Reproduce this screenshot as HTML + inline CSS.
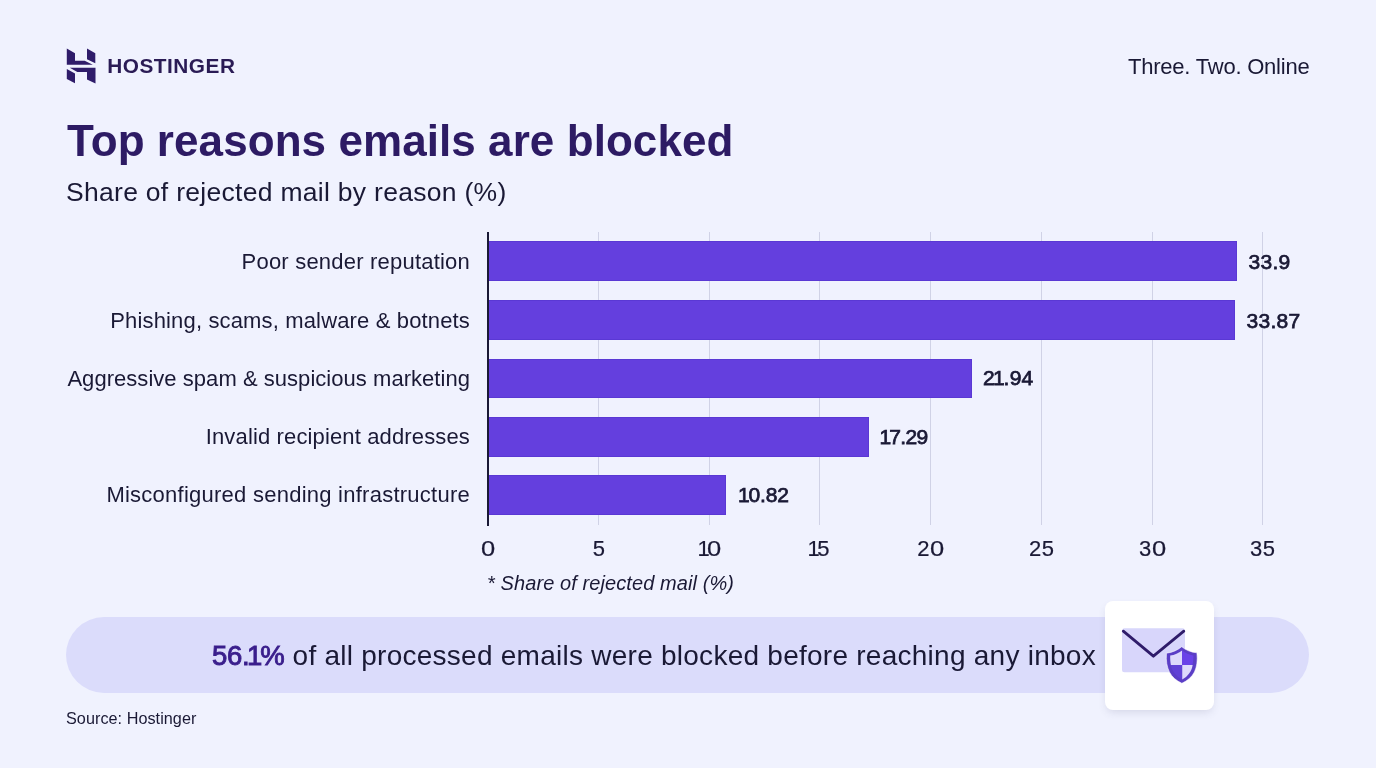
<!DOCTYPE html>
<html lang="en">
<head>
<meta charset="utf-8">
<title>Top reasons emails are blocked</title>
<style>
  html, body { margin:0; padding:0; }
  body { width:1376px; height:768px; overflow:hidden; background:#f0f2fe; font-family:"Liberation Sans", sans-serif; color:#1a1935; position:relative; }
  .abs { position:absolute; white-space:nowrap; }
  #logo-text { left:107.3px; top:54px; font-size:20.8px; font-weight:bold; letter-spacing:0.5px; color:#2a1b55; line-height:23px; }
  #tagline { right:66.5px; top:54.5px; font-size:22px; line-height:24px; letter-spacing:-0.22px; color:#1a1935; }
  #title { left:67px; top:115.5px; letter-spacing:0.07px; font-size:44px; font-weight:bold; line-height:50px; color:#2d1b64; }
  #subtitle { left:66px; top:177px; letter-spacing:0.29px; font-size:26.5px; line-height:31px; color:#1a1935; }
  .cat { right:906px; font-size:22px; line-height:26px; color:#1a1935; text-align:right; }
  .bar { left:488px; height:39.5px; background:#643fde; box-shadow:inset 0 0 0 1px rgba(70,40,190,0.3); }
  .val { font-size:21px; font-weight:normal; -webkit-text-stroke:0.75px #1a1935; line-height:24px; color:#1a1935; }
  .grid { width:1.4px; margin-left:-0.3px; top:232px; height:293px; background:#d0d2e6; }
  #axis { left:487px; top:231.5px; width:1.6px; height:294px; background:#1a1935; }
  .tick { width:60px; text-align:center; top:536.7px; -webkit-text-stroke:0.2px #1a1935; font-size:22px; line-height:24px; letter-spacing:0.4px; color:#1a1935; }
  #note { left:487px; top:571px; letter-spacing:0.09px; font-size:20px; line-height:24px; font-style:italic; color:#1a1935; }
  #pill { left:66px; top:617px; width:1243px; height:76px; border-radius:38px; background:#dbdcfb; }
  #stmt { left:212px; top:639px; font-size:28px; line-height:34px; color:#1a1935; }
  #stmt b { color:#3a1e8c; font-weight:normal; font-size:27.5px; letter-spacing:-0.3px; -webkit-text-stroke:0.9px #3a1e8c; }
  #stmt b .one { margin-left:-2.4px; margin-right:-1.6px; }
  #stmt span.r { letter-spacing:0.255px; }
  #card { left:1105px; top:601px; width:109px; height:109px; border-radius:8px; background:#fff; box-shadow:0 4px 9px -2px rgba(70,70,115,0.17); }
  #source { left:66px; top:708.3px; letter-spacing:0.05px; font-size:16.2px; line-height:20px; color:#1a1935; }
  .one { margin-left:-2px; margin-right:-1.2px; }
  .tick .one { margin-right:-3px; }
  .z { display:inline-block; transform:scaleX(1.16); margin:0 0.9px; }
</style>
</head>
<body>
  <svg class="abs" style="left:60px;top:40px" width="50" height="50" viewBox="60 40 50 50">
    <g fill="#2f1c6a">
      <polygon points="66.8,48.5 75,53.3 75,60.8 84.7,60.8 92.8,64.8 66.8,64.8"/>
      <polygon points="87,48.5 95.3,53.3 95.3,63.3 87,59.3"/>
      <polygon points="69.8,67.7 95.5,67.7 95.5,83.6 87,79.4 87,71.9 77.3,71.9"/>
      <polygon points="66.8,69 75,73.5 75,83.3 66.8,79.1"/>
    </g>
  </svg>
  <div id="logo-text" class="abs">HOSTINGER</div>
  <div id="tagline" class="abs">Three. Two. Online</div>
  <div id="title" class="abs">Top reasons emails are blocked</div>
  <div id="subtitle" class="abs">Share of rejected mail by reason (%)</div>

  <div class="abs grid" style="left:598px"></div>
  <div class="abs grid" style="left:709px"></div>
  <div class="abs grid" style="left:819px"></div>
  <div class="abs grid" style="left:930px"></div>
  <div class="abs grid" style="left:1041px"></div>
  <div class="abs grid" style="left:1152px"></div>
  <div class="abs grid" style="left:1262px"></div>

  <div class="abs bar" style="top:241.2px;width:749px"></div>
  <div class="abs bar" style="top:300px;width:747px"></div>
  <div class="abs bar" style="top:358.5px;width:484px"></div>
  <div class="abs bar" style="top:417px;width:381px"></div>
  <div class="abs bar" style="top:475.2px;width:238.3px"></div>
  <div id="axis" class="abs"></div>

  <div class="abs cat" style="top:249px;letter-spacing:0.21px">Poor sender reputation</div>
  <div class="abs cat" style="top:307.5px;letter-spacing:0.15px">Phishing, scams, malware &amp; botnets</div>
  <div class="abs cat" style="top:365.5px;letter-spacing:0.04px">Aggressive spam &amp; suspicious marketing</div>
  <div class="abs cat" style="top:424px;letter-spacing:0.14px">Invalid recipient addresses</div>
  <div class="abs cat" style="top:482px;letter-spacing:0.25px">Misconfigured sending infrastructure</div>

  <div class="abs val" style="left:1248.5px;top:250px;letter-spacing:0.3px">33.9</div>
  <div class="abs val" style="left:1246.5px;top:309px;letter-spacing:0.3px">33.87</div>
  <div class="abs val" style="left:983px;top:366.3px;letter-spacing:0.2px">2<span class="one">1</span>.94</div>
  <div class="abs val" style="left:881.5px;top:424.8px;letter-spacing:-0.7px"><span class="one">1</span>7.29</div>
  <div class="abs val" style="left:740px;top:482.8px;letter-spacing:-0.1px"><span class="one">1</span>0.82</div>

  <div class="abs tick" style="left:458.5px"><span class="z">0</span></div>
  <div class="abs tick" style="left:569px">5</div>
  <div class="abs tick" style="left:680.5px"><span class="one">1</span><span class="z">0</span></div>
  <div class="abs tick" style="left:789.7px"><span class="one">1</span>5</div>
  <div class="abs tick" style="left:900.7px">2<span class="z">0</span></div>
  <div class="abs tick" style="left:1011.7px">25</div>
  <div class="abs tick" style="left:1122.5px">3<span class="z">0</span></div>
  <div class="abs tick" style="left:1232.7px">35</div>

  <div id="note" class="abs">* Share of rejected mail (%)</div>

  <div id="pill" class="abs"></div>
  <div id="stmt" class="abs"><b>56.<span class="one">1</span>%</b><span class="r"> of all processed emails were blocked before reaching any inbox</span></div>
  <div id="card" class="abs"></div>
  <svg class="abs" style="left:1105px;top:601px" width="109" height="109" viewBox="1105 601 109 109">
    <rect x="1122" y="628.2" width="63" height="44" rx="2.5" fill="#d8d6fb"/>
    <polyline points="1123.3,631.2 1153.4,656.2 1183.8,631.2" fill="none" stroke="#2f1c6a" stroke-width="2.8" stroke-linecap="round" stroke-linejoin="round"/>
    <path d="M1181.7,646.7 C1185.5,650 1191,652.3 1196.9,652.8 C1197.7,661 1196.8,667 1194.4,672 C1191.8,677 1187.7,680.6 1181.9,683.3 C1176.1,680.6 1172,677 1169.4,672 C1167,667 1165.8,661 1166.5,653.2 C1172.4,652.5 1177.9,650 1181.7,646.7 Z" fill="#5b3ec6" stroke="#ffffff" stroke-opacity="0.55" stroke-width="1"/>
    <path d="M1182.1,650.4 L1182.1,664.9 L1170.9,664.9 C1170.3,662 1170.1,658.5 1170.2,655.6 C1174.5,654.8 1178.8,653 1182.1,650.4 Z" fill="#dedafc"/>
    <path d="M1182.1,664.9 L1192.7,664.9 C1191.5,671.5 1187.8,676.4 1182.1,679.5 Z" fill="#dedafc"/>
    <path d="M1182.1,650.4 C1185.4,653 1189.2,654.6 1193.4,655.4 C1193.5,658.5 1193.2,662 1192.4,664.9 L1182.1,664.9 Z" fill="#6a42e8"/>
    <path d="M1170.7,664.9 L1182.1,664.9 L1182.1,679.5 C1176.4,676.4 1172.1,671.5 1170.7,664.9 Z" fill="#6142d6"/>
  </svg>
  <div id="source" class="abs">Source: Hostinger</div>
</body>
</html>
